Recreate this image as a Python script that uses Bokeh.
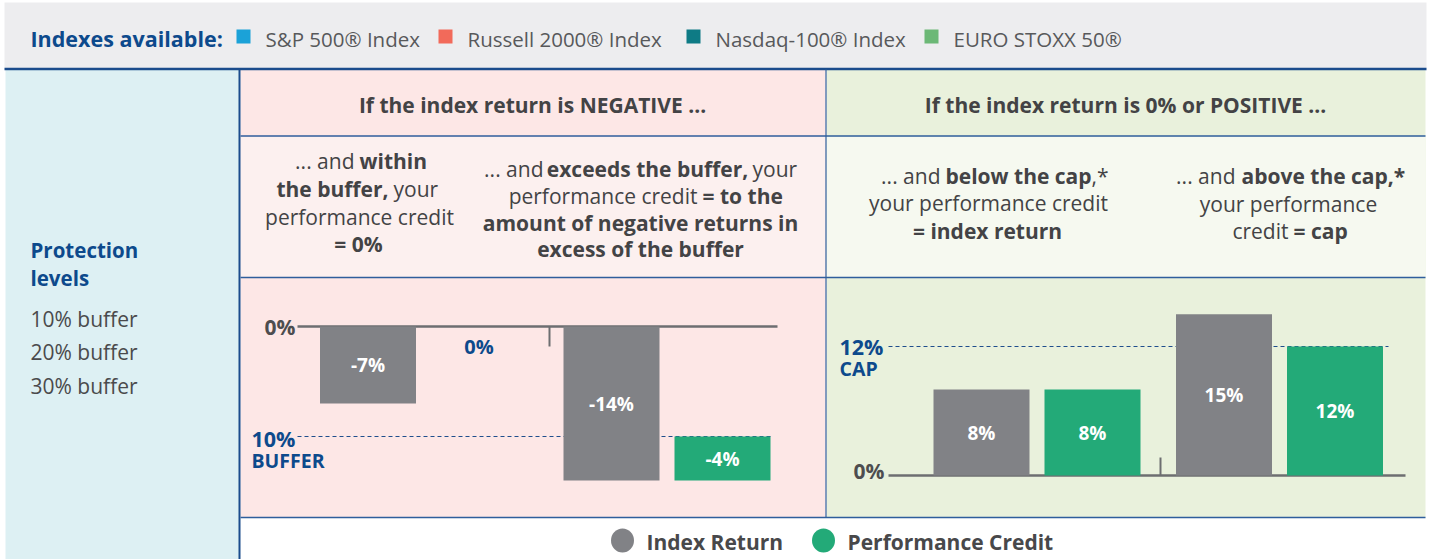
from bokeh.plotting import figure
from bokeh.models import Range1d
from bokeh.core.properties import value
from bokeh.embed import file_html
from bokeh.resources import INLINE

# ---------------- data ----------------
indexes = ["S&P 500® Index", "Russell 2000® Index", "Nasdaq-100® Index", "EURO STOXX 50®"]
index_colors = ["#1BA2D8", "#F26A5A", "#0E7B85", "#6CB876"]
protection_levels = ["10% buffer", "20% buffer", "30% buffer"]
neg_scenarios = ["within the buffer", "exceeds the buffer"]
neg_index_return = [-7, -14]
neg_credit = [0, -4]
pos_scenarios = ["below the cap", "above the cap"]
pos_index_return = [8, 15]
pos_credit = [8, 12]
buffer_level = 10
cap_level = 12
series = ["Index Return", "Performance Credit"]
series_colors = ["#818286", "#23AA78"]

# ---------------- styles / layout ----------------
FONT = "Open Sans"
BLUE = "#0D4A8C"
LINE = "#2F5E9C"
DARK = "#434345"
W, H = 1432, 559
X0, Y0 = 0, 0

p = figure(width=W, height=H, x_range=Range1d(X0, X0 + W), y_range=Range1d(Y0 + H, Y0),
           output_backend="svg", toolbar_location=None, min_border=0,
           x_axis_location=None, y_axis_location=None)
p.grid.visible = False
p.outline_line_color = None
p.background_fill_color = "white"
p.border_fill_color = "white"

# value scales of the two bar panels (0% baseline pixel, pixels per 1%)
NEG_ZERO, NEG_PX = 326, 11.0
POS_ZERO, POS_PX = 475, 10.75
p.extra_y_ranges = {
    "neg": Range1d((NEG_ZERO - (Y0 + H)) / NEG_PX, (NEG_ZERO - Y0) / NEG_PX),
    "pos": Range1d((POS_ZERO - (Y0 + H)) / POS_PX, (POS_ZERO - Y0) / POS_PX),
}


def txt(x, y, s, size, bold=False, color=DARK, align="left", rng="default", font=FONT):
    p.text(x=[x], y=[y], text=[s], text_font=value(font), text_font_size=f"{size}px",
           text_font_style="bold" if bold else "normal", text_color=color,
           text_align=align, text_baseline="middle", y_range_name=rng)


def box(l, r, t, b, color):
    p.quad(left=[l], right=[r], top=[t], bottom=[b], fill_color=color, line_color=None)


def hline(x0, x1, y, color=LINE, w=1.5):
    p.segment(x0=[x0], x1=[x1], y0=[y], y1=[y], line_color=color, line_width=w)


def vline(x, y0, y1, color=LINE, w=1.5):
    p.segment(x0=[x], x1=[x], y0=[y0], y1=[y1], line_color=color, line_width=w)


# ---------------- backgrounds ----------------
box(4, 1426, 2, 68, "#EDEDEF")
box(5, 239, 69, 559, "#DDF0F3")
box(240, 825, 69, 517, "#FDE7E6")
box(240, 825, 136, 277, "#FCF0EF")
box(826, 1425, 69, 517, "#E9F1DC")
box(826, 1425, 136, 277, "#F6F9F0")

hline(4, 1426, 68.5, color="#1B4C8C", w=2.5)
vline(239, 69, 559, color="#1B4C8C", w=2)
vline(825.5, 69, 517, w=1.2)
hline(240, 1425, 135.5)
hline(240, 1425, 277)
hline(240, 1425, 517)

# ---------------- header: indexes ----------------
txt(30, 38, "Indexes available:", 21.5, bold=True, color=BLUE)
sq_x = [243, 445, 693, 931]
for sx, name, c in zip(sq_x, indexes, index_colors):
    p.rect(x=[sx], y=[36], width=14, height=14, fill_color=c, line_color=None)
    txt(sx + 22, 38, name, 20.5, color="#58595B")

# ---------------- left panel ----------------
txt(30, 249, "Protection", 20.5, bold=True, color=BLUE)
txt(30, 277, "levels", 20.5, bold=True, color=BLUE)
for i, lvl in enumerate(protection_levels):
    txt(30, 318 + i * 33.5, lvl, 21, color="#4A4A4C")

# ---------------- section headers ----------------
txt(532, 104, "If the index return is NEGATIVE ...", 21, bold=True, align="center")
txt(1125, 104, "If the index return is 0% or POSITIVE ...", 21, bold=True, align="center")

# ---------------- sub headers (mixed weight lines) ----------------
S = 21
# column 1
txt(354, 160, "... and", S, align="right")
txt(359, 160, "within", S, bold=True)
txt(388, 188, "the buffer,", S, bold=True, align="right")
txt(393, 188, "your", S)
txt(359, 216, "performance credit", S, align="center")
txt(358, 243, "= 0%", S, bold=True, align="center")
# column 2
txt(543, 168, "... and", S, align="right")
txt(647, 168, "exceeds the buffer,", S, bold=True, align="center")
txt(752, 168, "your", S)
txt(697, 195, "performance credit", S, align="right")
txt(702, 195, "= to the", S, bold=True)
txt(640, 222, "amount of negative returns in", S, bold=True, align="center")
txt(640, 248, "excess of the buffer", S, bold=True, align="center")
# column 3
txt(940, 175, "... and", S, align="right")
txt(945, 175, "below the cap", S, bold=True)
txt(1091, 175, ",*", S)
txt(988, 202, "your performance credit", S, align="center")
txt(987, 230, "= index return", S, bold=True, align="center")
# column 4
txt(1235, 175, "... and", S, align="right")
txt(1241, 175, "above the cap,*", S, bold=True)
txt(1288, 203, "your performance", S, align="center")
txt(1288, 230, "credit", S, align="right")
txt(1293, 230, "= cap", S, bold=True)

# ---------------- negative panel bars ----------------
BAR_W = 96
SLOT = 55.5
neg_groups = [423, 666.5]
pos_groups = [1036.5, 1279]
AX = "#6D6E71"
LBL = 19

p.segment(x0=[297], x1=[777], y0=[0], y1=[0], line_color=AX, line_width=2.5, y_range_name="neg")
p.segment(x0=[549], x1=[549], y0=[0], y1=[-20 / NEG_PX], line_color=AX, line_width=2, y_range_name="neg")
p.segment(x0=[297], x1=[770], y0=[-buffer_level], y1=[-buffer_level], line_color="#1F4E8C",
          line_width=1.2, line_dash="4 3", y_range_name="neg")

for gx, ir, cr in zip(neg_groups, neg_index_return, neg_credit):
    p.vbar(x=[gx - SLOT], width=BAR_W, top=[0], bottom=[ir], fill_color=series_colors[0],
           line_color=None, y_range_name="neg")
    txt(gx - SLOT, ir / 2, f"{ir}%", LBL, bold=True, color="white", align="center", rng="neg")
    if cr < 0:
        p.vbar(x=[gx + SLOT], width=BAR_W, top=[-buffer_level], bottom=[-buffer_level + cr],
               fill_color=series_colors[1], line_color=None, y_range_name="neg")
        txt(gx + SLOT, -buffer_level + cr / 2, f"{cr}%", LBL, bold=True, color="white",
            align="center", rng="neg")
    else:
        txt(gx + SLOT, -20 / NEG_PX, f"{cr}%", 20, bold=True, color=BLUE, align="center", rng="neg")

txt(295, 0, "0%", 21, bold=True, color="#4D4D4F", align="right", rng="neg")
txt(251, -buffer_level - 0.2, f"{buffer_level}%", 21.5, bold=True, color=BLUE, rng="neg")
txt(251, -buffer_level - 24 / NEG_PX, "BUFFER", 19.5, bold=True, color=BLUE, rng="neg")

# ---------------- positive panel bars ----------------
p.segment(x0=[888], x1=[1405], y0=[0], y1=[0], line_color=AX, line_width=2.5, y_range_name="pos")
p.segment(x0=[1160], x1=[1160], y0=[0], y1=[18 / POS_PX], line_color=AX, line_width=2, y_range_name="pos")
p.segment(x0=[888], x1=[1388], y0=[cap_level], y1=[cap_level], line_color="#1F4E8C",
          line_width=1.2, line_dash="4 3", y_range_name="pos")

for gx, ir, cr in zip(pos_groups, pos_index_return, pos_credit):
    p.vbar(x=[gx - SLOT], width=BAR_W, top=[ir], bottom=[0], fill_color=series_colors[0],
           line_color=None, y_range_name="pos")
    p.vbar(x=[gx + SLOT], width=BAR_W, top=[cr], bottom=[0], fill_color=series_colors[1],
           line_color=None, y_range_name="pos")
    txt(gx - SLOT, ir / 2, f"{ir}%", LBL, bold=True, color="white", align="center", rng="pos")
    txt(gx + SLOT, cr / 2, f"{cr}%", LBL, bold=True, color="white", align="center", rng="pos")

txt(884, 0.4, "0%", 21, bold=True, color="#4D4D4F", align="right", rng="pos")
txt(839, cap_level, f"{cap_level}%", 21.5, bold=True, color=BLUE, rng="pos")
txt(839, cap_level - 22 / POS_PX, "CAP", 19.5, bold=True, color=BLUE, rng="pos")

# ---------------- legend ----------------
leg_x = [622, 823]
for lx, name, c in zip(leg_x, series, series_colors):
    p.ellipse(x=[lx], y=[540], width=23, height=24, fill_color=c, line_color=None)
    txt(lx + 24, 541, name, 21, bold=True, color="#48484A")

open("out.html", "w").write(file_html(p, INLINE))
